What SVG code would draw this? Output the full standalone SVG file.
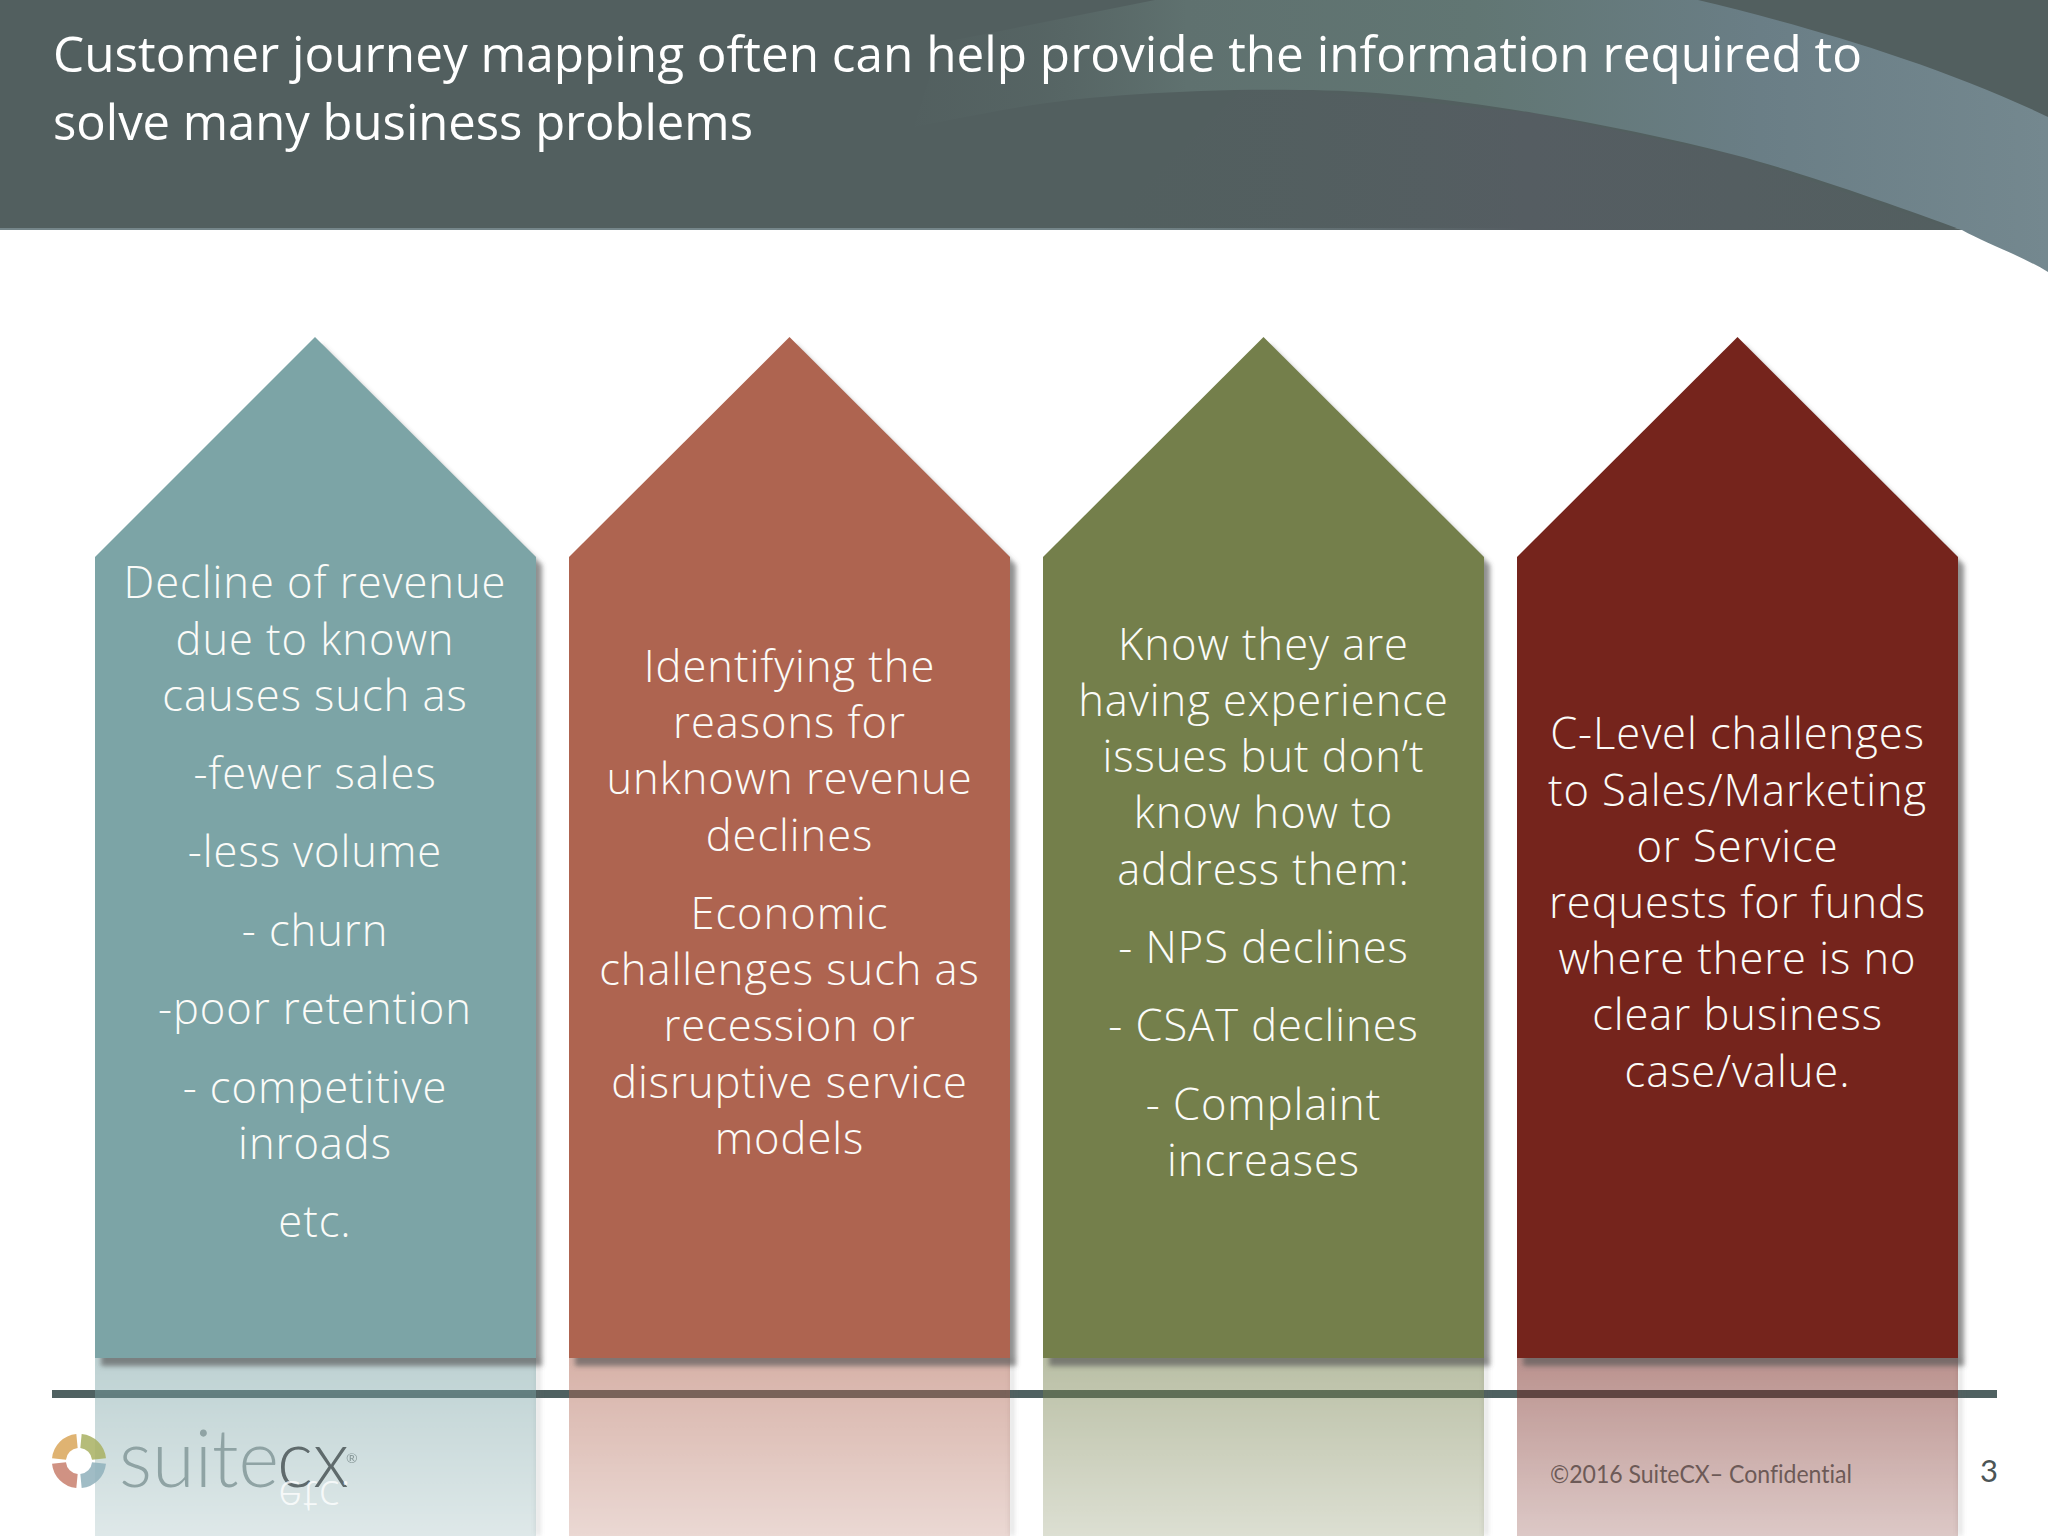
<svg xmlns="http://www.w3.org/2000/svg" width="2048" height="1536" viewBox="0 0 2048 1536">
<style>
text{font-variant-ligatures:none}
.t{font-family:"Open Sans","Lato","Liberation Sans",sans-serif;font-weight:300;font-size:43.5px;letter-spacing:.95px;fill:#fbfbf8;text-anchor:middle}
.h{font-family:"Open Sans","Liberation Sans",sans-serif;font-size:50px;fill:#fff}
.f{font-family:"Lato","Liberation Sans",sans-serif;fill:#6d5a57}
.lg{font-family:"Lato","Liberation Sans",sans-serif;font-weight:300;font-size:80px}
.seg{fill:none;stroke-width:14;stroke-opacity:.85}
</style>
<defs>
<linearGradient id="band" x1="900" y1="0" x2="2048" y2="0" gradientUnits="userSpaceOnUse">
<stop offset="0" stop-color="#5c6d6b" stop-opacity="0"/><stop offset=".12" stop-color="#5c6d6b" stop-opacity=".35"/><stop offset=".25" stop-color="#5f716f"/><stop offset=".5" stop-color="#617673"/><stop offset=".75" stop-color="#6a7e86"/><stop offset="1" stop-color="#74888f"/>
</linearGradient>
<linearGradient id="inner" x1="1100" y1="0" x2="1950" y2="0" gradientUnits="userSpaceOnUse">
<stop offset="0" stop-color="#535f60" stop-opacity="0"/><stop offset=".5" stop-color="#555d62"/><stop offset="1" stop-color="#535f60"/>
</linearGradient>
<linearGradient id="fade" x1="0" y1="1358" x2="0" y2="1536" gradientUnits="userSpaceOnUse">
<stop offset="0" stop-color="#fff" stop-opacity=".5"/><stop offset="1" stop-color="#fff" stop-opacity=".25"/>
</linearGradient>
<mask id="fm" maskUnits="userSpaceOnUse" x="0" y="1358" width="2048" height="178"><rect x="0" y="1358" width="2048" height="178" fill="url(#fade)"/></mask>
<filter id="blur" x="-5%" y="-5%" width="110%" height="110%"><feGaussianBlur stdDeviation="2.5"/></filter>
<filter id="soft" x="-5%" y="-5%" width="110%" height="110%"><feGaussianBlur stdDeviation=".7"/></filter>
</defs>
<rect width="2048" height="1536" fill="#fff"/>
<g id="header">
<rect x="0" y="0" width="2048" height="230" fill="#525f5f"/>
<rect x="0" y="228" width="1965" height="2" fill="#75868a"/>
<path d="M1240,90 L1300,90 L1534,113 L1735,155 L1935,223 L1962,230 L1100,230 Z" fill="url(#inner)"/>
<path d="M1155,0 L1698,0 C1790,22 1930,60 2048,117 L2048,272 C2020,255 1985,243 1962,230 C1900,207 1800,172 1735,155 C1670,138 1600,124 1534,113 C1450,99 1370,90 1300,90 C1200,88 1090,96 1040,104 C1000,110 960,118 914,127 L940,43 Z" fill="url(#band)"/>
<text class="h" x="53" y="72" textLength="1809" lengthAdjust="spacingAndGlyphs">Customer journey mapping often can help provide the information required to</text>
<text class="h" x="53" y="140" textLength="700" lengthAdjust="spacingAndGlyphs">solve many business problems</text>
</g>
<rect id="rule" x="52" y="1390" width="1945" height="8" fill="#4f6161"/>
<g id="reflection-shadows" fill="#666" fill-opacity=".22" filter="url(#blur)">
<rect x="536" y="1358" width="4" height="178"/>
<rect x="1010" y="1358" width="4" height="178"/>
<rect x="1484" y="1358" width="4" height="178"/>
<rect x="1958" y="1358" width="4" height="178"/>
</g>
<g id="reflections" mask="url(#fm)">
<rect x="95" y="1358" width="441" height="178" fill="#7ca4a6"/>
<rect x="569" y="1358" width="441" height="178" fill="#ae6450"/>
<rect x="1043" y="1358" width="441" height="178" fill="#747f4b"/>
<rect x="1517" y="1358" width="441" height="178" fill="#75241c"/>
</g>
<g id="logo" filter="url(#soft)">
<g class="ring">
<path class="seg" stroke="#d9a65a" d="M59,1459 A20,20 0 0 1 77,1441"/>
<path class="seg" stroke="#a8b060" d="M81,1441 A20,20 0 0 1 99,1459"/>
<path class="seg" stroke="#8fb0bb" d="M99,1463 A20,20 0 0 1 81,1481"/>
<path class="seg" stroke="#c87f6c" d="M77,1481 A20,20 0 0 1 59,1463"/>
</g>
<text class="lg" x="119" y="1487" fill="#8fa3a4" textLength="160" lengthAdjust="spacingAndGlyphs">suite</text>
<text class="lg" x="277" y="1487" fill="#5f6b6c" textLength="72" lengthAdjust="spacingAndGlyphs">cx</text>
<text class="f" x="346" y="1463" font-size="14" style="fill:#8a9a9b">®</text>
</g>
<text id="etc-reflection" class="t" transform="translate(315,1481) scale(1,-1)" x="0" y="0" style="fill:#fff;fill-opacity:.8">etc.</text>
<text class="f" x="1550" y="1483" font-size="25" textLength="302" lengthAdjust="spacingAndGlyphs">©2016 SuiteCX– Confidential</text>
<text class="f" x="1980" y="1482" font-size="31" style="fill:#4c5556">3</text>
<g id="arrow1">
<path d="M315,337 L536,557 V1358 H95 V557 Z" transform="translate(6,8)" fill="#555" fill-opacity=".65" filter="url(#blur)"/>
<path d="M315,337 L536,557 V1358 H95 V557 Z" fill="#7ca4a6"/>
<text class="t"><tspan x="315" y="598.3">Decline of revenue</tspan><tspan x="315" y="654.5">due to known</tspan><tspan x="315" y="710.7">causes such as</tspan><tspan x="315" y="789">-fewer sales</tspan><tspan x="315" y="867.3">-less volume</tspan><tspan x="315" y="945.7">- churn</tspan><tspan x="315" y="1024.2">-poor retention</tspan><tspan x="315" y="1102.6">- competitive</tspan><tspan x="315" y="1158.7">inroads</tspan><tspan x="315" y="1237.1">etc.</tspan></text>
</g>
<g id="arrow2">
<path d="M789.5,337 L1010,557 V1358 H569 V557 Z" transform="translate(6,8)" fill="#555" fill-opacity=".65" filter="url(#blur)"/>
<path d="M789.5,337 L1010,557 V1358 H569 V557 Z" fill="#ae6450"/>
<text class="t"><tspan x="789.5" y="682">Identifying the</tspan><tspan x="789.5" y="738.2">reasons for</tspan><tspan x="789.5" y="794.4">unknown revenue</tspan><tspan x="789.5" y="850.6">declines</tspan><tspan x="789.5" y="928.9">Economic</tspan><tspan x="789.5" y="985.1">challenges such as</tspan><tspan x="789.5" y="1041.3">recession or</tspan><tspan x="789.5" y="1097.5">disruptive service</tspan><tspan x="789.5" y="1153.7">models</tspan></text>
</g>
<g id="arrow3">
<path d="M1263.5,337 L1484,557 V1358 H1043 V557 Z" transform="translate(6,8)" fill="#555" fill-opacity=".65" filter="url(#blur)"/>
<path d="M1263.5,337 L1484,557 V1358 H1043 V557 Z" fill="#747f4b"/>
<text class="t"><tspan x="1263.5" y="659.8">Know they are</tspan><tspan x="1263.5" y="716">having experience</tspan><tspan x="1263.5" y="772.2">issues but don’t</tspan><tspan x="1263.5" y="828.4">know how to</tspan><tspan x="1263.5" y="884.6">address them:</tspan><tspan x="1263.5" y="962.9">- NPS declines</tspan><tspan x="1263.5" y="1041.3">- CSAT declines</tspan><tspan x="1263.5" y="1119.6">- Complaint</tspan><tspan x="1263.5" y="1175.8">increases</tspan></text>
</g>
<g id="arrow4">
<path d="M1737.5,337 L1958,557 V1358 H1517 V557 Z" transform="translate(6,8)" fill="#555" fill-opacity=".65" filter="url(#blur)"/>
<path d="M1737.5,337 L1958,557 V1358 H1517 V557 Z" fill="#75241c"/>
<text class="t"><tspan x="1737.5" y="749.3">C-Level challenges</tspan><tspan x="1737.5" y="805.5">to Sales/Marketing</tspan><tspan x="1737.5" y="861.7">or Service</tspan><tspan x="1737.5" y="917.9">requests for funds</tspan><tspan x="1737.5" y="974.1">where there is no</tspan><tspan x="1737.5" y="1030.3">clear business</tspan><tspan x="1737.5" y="1086.5">case/value.</tspan></text>
</g>
</svg>
